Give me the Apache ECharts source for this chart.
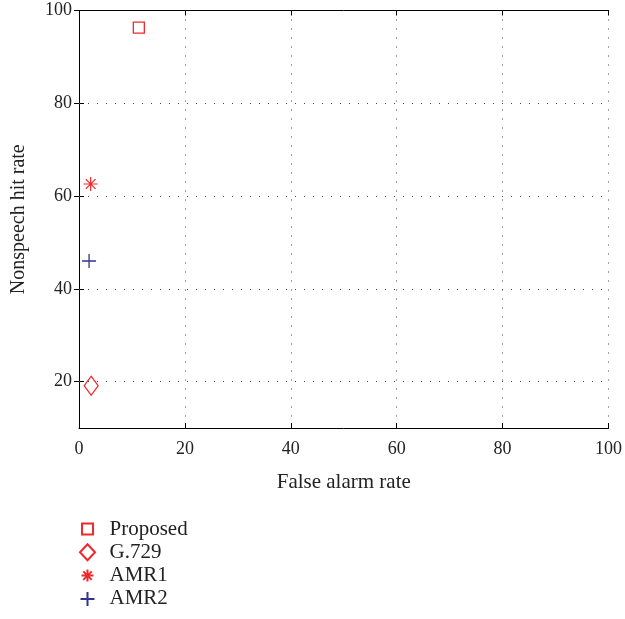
<!DOCTYPE html>
<html><head><meta charset="utf-8">
<script src="https://cdn.jsdelivr.net/npm/echarts@6/dist/echarts.min.js"></script>
<style>html,body{margin:0;padding:0;background:#fff}#c{width:625px;height:619px}</style>
</head><body><div id="c"></div>
<script>
const seriesNames = ['Proposed', 'G.729', 'AMR1', 'AMR2'];
const proposed = [[11.3, 96.3]];
const g729 = [[2.3, 19.1]];
const amr1 = [[2.2, 62.6]];
const amr2 = [[1.9, 46.0]];
const xTicks = [0, 20, 40, 60, 80, 100];
const yTicks = [20, 40, 60, 80, 100];
const yGridLines = [20, 40, 60, 80];

const RED = '#f0282d';
const BLUE = '#33338f';
const FONT = 'Liberation Serif';
const starPath = 'path://M10,0L10,20M0,10L20,10M3,3L17,17M3,17L17,3';
const plusPath = 'path://M10,0L10,20M0,10L20,10';
// legend icons drawn inside a 20x20 box so their sizes match the reference
const legRect = 'path://M0,0M20,20M3.1,3.1L16.9,3.1L16.9,16.9L3.1,16.9Z';
const legDiamond = 'path://M0,0M20,20M10,0L19.4,10L10,20L0.6,10Z';
const legStar = 'path://M0,0M20,20M10,2.5L10,17.5M2.5,10L17.5,10M4.7,4.7L15.3,15.3M4.7,15.3L15.3,4.7';
const legPlus = 'path://M0,0M20,20M10,1.25L10,18.75M1.25,10L18.75,10';
const DOTS = {color: '#444', type: [1, 8], width: 1};

const chart = echarts.init(document.getElementById('c'));
const lineCommon = {show: true, lineStyle: {color: '#000', width: 1}};
const tickCommon = {show: true, inside: true, length: 5, lineStyle: {color: '#000'}};
const labelStyle = {color: '#222', fontFamily: FONT, fontSize: 18};
chart.setOption({
  animation: false,
  grid: {left: 79, right: 16, top: 10.5, bottom: 191, containLabel: false},
  xAxis: [
    {
      type: 'value', position: 'bottom', min: 0, max: 100, interval: 20,
      name: 'False alarm rate', nameLocation: 'middle', nameGap: 44,
      nameTextStyle: {color: '#222', fontFamily: FONT, fontSize: 21},
      axisLine: lineCommon, axisTick: tickCommon,
      axisLabel: Object.assign({customValues: xTicks, margin: 12}, labelStyle),
      splitLine: {show: true, lineStyle: DOTS}
    },
    {
      type: 'value', position: 'top', min: 0, max: 100, interval: 20,
      axisLine: lineCommon, axisTick: tickCommon,
      axisLabel: {show: false}, splitLine: {show: false}
    }
  ],
  yAxis: [
    {
      type: 'value', min: 10, max: 100, interval: 10, position: 'left',
      name: 'Nonspeech hit rate', nameLocation: 'middle', nameGap: 50,
      nameTextStyle: {color: '#222', fontFamily: FONT, fontSize: 20},
      axisLine: lineCommon,
      axisTick: Object.assign({customValues: yTicks}, tickCommon),
      axisLabel: Object.assign({customValues: yTicks, margin: 7}, labelStyle),
      splitLine: {show: false}
    },
    {
      type: 'value', min: 10, max: 100, interval: 10, position: 'right',
      axisLine: lineCommon,
      axisTick: Object.assign({customValues: yTicks}, tickCommon),
      axisLabel: {show: false}, splitLine: {show: false}
    }
  ],
  legend: {
    orient: 'vertical', left: 72, top: 513.5, height: 110, itemGap: 2.3, itemWidth: 16, itemHeight: 16,
    textStyle: {color: '#222', fontFamily: FONT, fontSize: 21, lineHeight: 21, padding: [0, 0, 0, 9]},
    data: [
      {name: seriesNames[0], icon: legRect},
      {name: seriesNames[1], icon: legDiamond},
      {name: seriesNames[2], icon: legStar},
      {name: seriesNames[3], icon: legPlus}
    ]
  },
  series: [
    {name: seriesNames[0], type: 'scatter', data: proposed, symbol: 'rect', symbolSize: 11,
     itemStyle: {color: 'none', borderColor: RED, borderWidth: 1.3, opacity: 1},
     markLine: {silent: true, symbol: 'none', label: {show: false}, lineStyle: DOTS,
       data: yGridLines.map(v => ({yAxis: v}))}},
    {name: seriesNames[1], type: 'scatter', data: g729, symbol: 'diamond', symbolSize: [14, 19],
     itemStyle: {color: 'none', borderColor: RED, borderWidth: 1.3, opacity: 1}},
    {name: seriesNames[2], type: 'scatter', data: amr1, symbol: starPath, symbolSize: 14,
     itemStyle: {color: 'none', borderColor: RED, borderWidth: 1.2, opacity: 1}},
    {name: seriesNames[3], type: 'scatter', data: amr2, symbol: plusPath, symbolSize: 14,
     itemStyle: {color: 'none', borderColor: BLUE, borderWidth: 1.3, opacity: 1}}
  ]
});
</script></body></html>
